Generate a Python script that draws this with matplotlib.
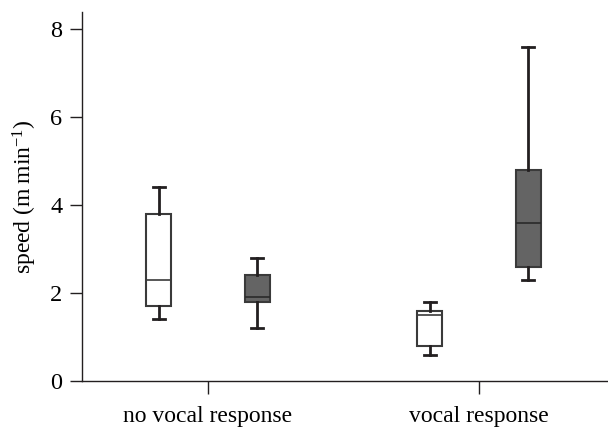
import matplotlib
matplotlib.use("Agg")
import matplotlib.pyplot as plt

plt.rcParams['font.family'] = ['Liberation Serif', 'DejaVu Serif']
plt.rcParams['mathtext.fontset'] = 'custom'
plt.rcParams['mathtext.rm'] = 'Liberation Serif'
plt.rcParams['mathtext.it'] = 'Liberation Serif:italic'

categories = ["no vocal response", "vocal response"]
# light (white) boxes
white_whislo = [1.4, 0.6]
white_q1 = [1.7, 0.8]
white_med = [2.3, 1.5]
white_q3 = [3.8, 1.6]
white_whishi = [4.4, 1.8]
# dark boxes
dark_whislo = [1.2, 2.3]
dark_q1 = [1.8, 2.6]
dark_med = [1.9, 3.6]
dark_q3 = [2.4, 4.8]
dark_whishi = [2.8, 7.6]
yticks = [0, 2, 4, 6, 8]

fig = plt.figure(figsize=(6.08, 4.30), dpi=100)
ax = fig.add_axes([82/608, 49/430, 1 - 82/608, (381-12)/430])

def stats(lo, q1, med, q3, hi):
    return [dict(whislo=a, q1=b, med=c, q3=d, whishi=e, fliers=[])
            for a, b, c, d, e in zip(lo, q1, med, q3, hi)]

off = 0.182
w = 0.093
common = dict(widths=w, showfliers=False, patch_artist=True,
              whiskerprops=dict(color='#231f20', linewidth=2.0),
              capprops=dict(color='#231f20', linewidth=2.0),
              capwidths=0.045)
ax.bxp(stats(white_whislo, white_q1, white_med, white_q3, white_whishi),
       positions=[i - off for i in range(len(categories))],
       boxprops=dict(facecolor='white', edgecolor='#3a3a3a', linewidth=1.5),
       medianprops=dict(color='#3a3a3a', linewidth=1.2), **common)
ax.bxp(stats(dark_whislo, dark_q1, dark_med, dark_q3, dark_whishi),
       positions=[i + off for i in range(len(categories))],
       boxprops=dict(facecolor='#646464', edgecolor='#3a3a3a', linewidth=1.5),
       medianprops=dict(color='#2a2a2a', linewidth=1.2), **common)

ax.set_xlim(-0.465, 1.476)
ax.set_ylim(0, 8.39)
ax.set_xticks(range(len(categories)))
ax.set_xticklabels(categories, fontsize=17)
ax.set_yticks(yticks)
ax.set_yticklabels([str(t) for t in yticks], fontsize=17.5)
ax.set_ylabel("speed (m\u2009min$^{-1}$)", fontsize=17, labelpad=8)
for s in ['top', 'right']:
    ax.spines[s].set_visible(False)
for s in ['left', 'bottom']:
    ax.spines[s].set_color('#231f20')
    ax.spines[s].set_linewidth(1.0)
ax.tick_params(axis='both', direction='out', length=9, width=1.0, color='#231f20')
ax.tick_params(axis='x', pad=9)
ax.tick_params(axis='y', pad=5)

fig.savefig("out.png", dpi=100)
